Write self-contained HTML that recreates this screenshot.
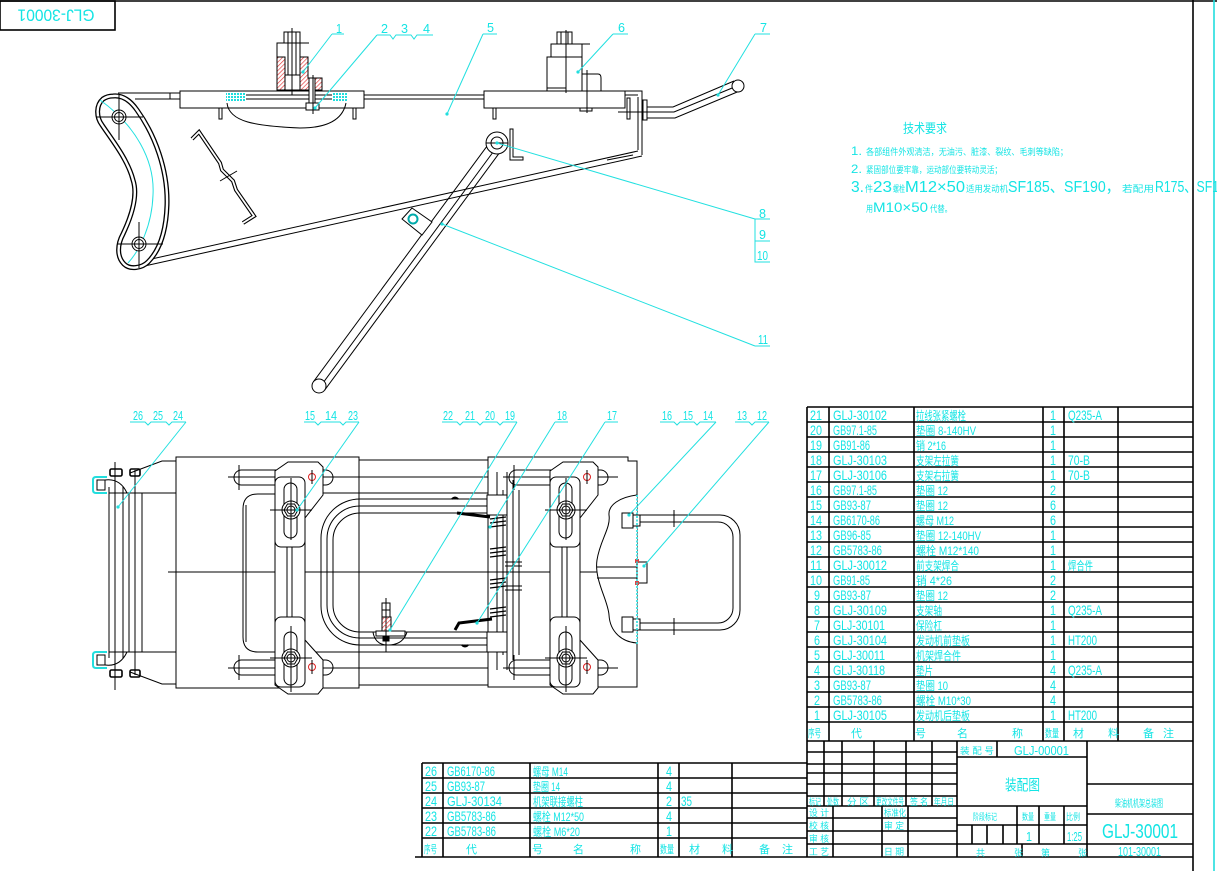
<!DOCTYPE html>
<html><head><meta charset="utf-8"><style>
html,body{margin:0;padding:0;background:#fff;}
svg{display:block;}
.c{fill:#14e4e4;font-family:"Liberation Sans","Noto Sans CJK SC",sans-serif;}
.k{stroke:#000;fill:none;stroke-width:1;}
.cy{stroke:#22e0e0;fill:none;stroke-width:1;}
.tb{stroke:#000;stroke-width:1.6;fill:none;}
</style></head><body>
<svg xmlns="http://www.w3.org/2000/svg" width="1217" height="871" viewBox="0 0 1217 871">
<defs>
<pattern id="rh" width="3" height="3" patternUnits="userSpaceOnUse" patternTransform="rotate(45)"><line x1="0" y1="0" x2="0" y2="3" stroke="#e03535" stroke-width="1.3"/></pattern>
<pattern id="ch" width="3" height="3" patternUnits="userSpaceOnUse"><rect width="2" height="2" fill="#20dede"/></pattern>
</defs>
<rect width="1217" height="871" fill="#fff"/>

<!-- frame -->
<line x1="0" y1="1" x2="1217" y2="1" stroke="#000" stroke-width="1.6"/>
<rect x="0" y="1" width="115" height="29" class="tb"/>
<text class="c" transform="translate(56.5,15.5) rotate(180)" x="-38" y="6" font-size="17" textLength="77" lengthAdjust="spacingAndGlyphs">GLJ-30001</text>
<line x1="1193" y1="0" x2="1193" y2="871" stroke="#000" stroke-width="1.6"/>
<line x1="1214" y1="0" x2="1214" y2="871" stroke="#22dede" stroke-width="1.6"/>

<!-- ================= TOP VIEW ================= -->
<g class="k">
<!-- rod -->
<line x1="118" y1="93" x2="180" y2="93"/>
<line x1="135" y1="99" x2="180" y2="99"/>
<line x1="170" y1="93" x2="170" y2="99"/>
<line x1="364" y1="95" x2="484" y2="95"/>
<line x1="364" y1="99" x2="484" y2="99"/>
<!-- left block -->
<rect x="180" y="91" width="184" height="17"/>
<line x1="246" y1="95" x2="332" y2="95"/>
<line x1="246" y1="99" x2="332" y2="99"/>
<rect x="219" y="108" width="3" height="11"/>
<rect x="353" y="108" width="3" height="11"/>
<path d="M227,103 C229,122 255,126 300,128 C330,128 343,118 346,103"/>
<!-- part 1 -->
<rect x="284" y="32" width="16" height="11"/>
<line x1="288" y1="32" x2="288" y2="43"/><line x1="296" y1="32" x2="296" y2="43"/>
<line x1="277" y1="43" x2="309" y2="43"/>
<rect x="277" y="43" width="23" height="47" fill="#fff"/>
<rect x="277" y="57" width="8" height="33" fill="url(#rh)"/>
<path d="M300,57 L308,57 L308,78 L322,78 L322,90 L300,90 Z" fill="url(#rh)"/>
<line x1="288" y1="43" x2="288" y2="75"/><line x1="296" y1="43" x2="296" y2="75"/>
<rect x="285" y="75" width="15" height="15"/>
<rect x="309" y="78" width="6" height="25" fill="#fff"/>
<rect x="306" y="103" width="13" height="7" fill="#fff"/>
<line x1="292" y1="28" x2="292" y2="95"/>
<line x1="313" y1="75" x2="313" y2="114"/>
<!-- right block -->
<rect x="484" y="91" width="141" height="17"/>
<rect x="493" y="108" width="3" height="11"/>
<rect x="580" y="108" width="12" height="3"/>
<rect x="547" y="57" width="35" height="34" fill="#fff"/>
<rect x="551" y="44" width="31" height="13"/>
<line x1="551" y1="44" x2="590" y2="44"/>
<rect x="557" y="32" width="15" height="12"/>
<line x1="561" y1="32" x2="561" y2="44"/><line x1="568" y1="32" x2="568" y2="44"/>
<path d="M582,74 L598,74 Q601,74 601,78 L601,91"/>
<line x1="547" y1="88" x2="566" y2="88"/>
<line x1="566" y1="30" x2="566" y2="93"/>
<line x1="587" y1="70" x2="587" y2="113"/>
<!-- bracket -->
<path d="M625,91 L642,91 L642,155"/>
<line x1="638" y1="97" x2="638" y2="150"/>
<line x1="625" y1="95" x2="638" y2="95"/>
<rect x="627" y="98" width="3" height="21"/>
<rect x="643" y="100" width="4" height="20"/>
<line x1="618" y1="112" x2="652" y2="112"/>
<line x1="607" y1="160" x2="633" y2="155"/>
<!-- handle -->
<path d="M647,107 L673,107 L734,81"/>
<path d="M647,112 L674,112 L737,86"/>
<path d="M647,118 L675,118 L742,90"/>
<circle cx="738" cy="86" r="6" fill="#fff"/>
<!-- diagonal frame bar -->
<line x1="138" y1="262" x2="638" y2="151"/>
<line x1="140" y1="267" x2="642" y2="156"/>
<!-- curved link -->
<path d="M113,96 C122,95 130,100 137,110 C155,135 168,170 167,205 C166,235 158,252 148,262 C142,268 130,270 124,264 C117,257 117,245 123,234 C132,215 138,195 133,180 C128,160 112,140 102,125 C96,117 96,105 103,99 C106,97 110,96 113,96 Z" stroke-width="5" fill="#fff"/>
<path d="M113,96 C122,95 130,100 137,110 C155,135 168,170 167,205 C166,235 158,252 148,262 C142,268 130,270 124,264 C117,257 117,245 123,234 C132,215 138,195 133,180 C128,160 112,140 102,125 C96,117 96,105 103,99 C106,97 110,96 113,96 Z" stroke="#fff" stroke-width="2.4"/>
</g>
<path d="M100,100 C135,125 155,160 153,195 C152,225 140,250 128,263" class="cy"/>
<g class="k">
<circle cx="119" cy="117" r="7" fill="#fff"/><circle cx="119" cy="117" r="4.5"/>
<line x1="97" y1="117" x2="143" y2="117"/><line x1="119" y1="95" x2="119" y2="140"/>
<circle cx="139" cy="244" r="7" fill="#fff"/><circle cx="139" cy="244" r="4.5"/>
<line x1="117" y1="244" x2="163" y2="244"/><line x1="139" y1="222" x2="139" y2="268"/>
<!-- bent wire -->
<polyline points="192,139 199,132 220,163 222,170 233,181 236,190 254,216 243,223" stroke-width="4"/>
<polyline points="192,139 199,132 220,163 222,170 233,181 236,190 254,216 243,223" stroke="#fff" stroke-width="1.8"/>
<line x1="220" y1="181" x2="237" y2="171"/>
<!-- lever -->
<line x1="503.6" y1="147.2" x2="324.6" y2="390.2"/>
<line x1="492.4" y1="138.8" x2="313.4" y2="381.8"/>
<line x1="499" y1="144" x2="320" y2="387"/>
<circle cx="497" cy="143" r="11" fill="#fff"/>
<circle cx="497" cy="143" r="6"/>
<line x1="486" y1="143" x2="508" y2="143"/>
<circle cx="319" cy="386" r="7" fill="#fff"/>
<path d="M510,129 L513,129 L513,157 L523,157 L523,160 L510,160 Z"/>
<polygon points="402,219 412,208 432,222 422,235" fill="#fff"/>
<circle cx="413" cy="219" r="4.5" stroke="#0aa" stroke-width="2"/>
</g>
<rect x="226" y="92" width="20" height="9" fill="url(#ch)"/>
<rect x="332" y="92" width="15" height="9" fill="url(#ch)"/>

<!-- top leaders -->
<g class="cy">
<path d="M332,34 L344,34 M332,34 L303,72"/>
<path d="M377,35 L390,35 L393,39 L396,35 L411,35 L414,39 L417,35 L433,35 M377,35 L315,108"/>
<path d="M483,34 L497,34 M483,34 L447,114"/>
<path d="M613,34 L628,34 M613,34 L578,72"/>
<path d="M755,34 L770,34 M755,34 L718,95"/>
<path d="M770,219 L755,219 L755,262 L770,262 M755,241 L770,241 M755,219 L497,143"/>
<path d="M755,346 L770,346 M755,346 L442,224"/>
</g>
<g fill="#22dede">
<circle cx="303" cy="72" r="1.6"/><circle cx="315" cy="108" r="1.6"/><circle cx="447" cy="114" r="1.6"/>
<circle cx="578" cy="72" r="1.6"/><circle cx="718" cy="95" r="1.6"/><circle cx="497" cy="143" r="1.6"/><circle cx="442" cy="224" r="1.6"/>
</g>
<g class="c" font-size="13">
<text x="336" y="33" textLength="6" lengthAdjust="spacingAndGlyphs">1</text>
<text x="381" y="33" textLength="7" lengthAdjust="spacingAndGlyphs">2</text>
<text x="401" y="33" textLength="7" lengthAdjust="spacingAndGlyphs">3</text>
<text x="423" y="33" textLength="7" lengthAdjust="spacingAndGlyphs">4</text>
<text x="487" y="32" textLength="7" lengthAdjust="spacingAndGlyphs">5</text>
<text x="618" y="32" textLength="7" lengthAdjust="spacingAndGlyphs">6</text>
<text x="760" y="32" textLength="7" lengthAdjust="spacingAndGlyphs">7</text>
<text x="759" y="218" textLength="7" lengthAdjust="spacingAndGlyphs">8</text>
<text x="759" y="239" textLength="7" lengthAdjust="spacingAndGlyphs">9</text>
<text x="757" y="260" textLength="11" lengthAdjust="spacingAndGlyphs">10</text>
<text x="758" y="344" textLength="10" lengthAdjust="spacingAndGlyphs">11</text>
</g>

<!-- tech requirements -->
<g class="c">
<text x="903" y="133" font-size="13" textLength="44" lengthAdjust="spacingAndGlyphs">技术要求</text>
<text x="851" y="155" font-size="12" textLength="11" lengthAdjust="spacingAndGlyphs">1.</text>
<text x="866" y="155" font-size="9" textLength="202" lengthAdjust="spacingAndGlyphs">各部组件外观清洁，无油污、脏漆、裂纹、毛刺等缺陷；</text>
<text x="851" y="173" font-size="12" textLength="11" lengthAdjust="spacingAndGlyphs">2.</text>
<text x="866" y="173" font-size="9" textLength="136" lengthAdjust="spacingAndGlyphs">紧固部位要牢靠，运动部位要转动灵活；</text>
<text x="851" y="192" font-size="16" textLength="13" lengthAdjust="spacingAndGlyphs">3.</text>
<text x="865" y="192" font-size="9" textLength="8" lengthAdjust="spacingAndGlyphs">件</text>
<text x="873" y="192" font-size="16" textLength="19" lengthAdjust="spacingAndGlyphs">23</text>
<text x="893" y="192" font-size="9" textLength="12" lengthAdjust="spacingAndGlyphs">螺栓</text>
<text x="905" y="192" font-size="16" textLength="60" lengthAdjust="spacingAndGlyphs">M12×50</text>
<text x="966" y="192" font-size="9" textLength="42" lengthAdjust="spacingAndGlyphs">适用发动机</text>
<text x="1008" y="192" font-size="16" textLength="112" lengthAdjust="spacingAndGlyphs">SF185、SF190，</text>
<text x="1122" y="192" font-size="9" textLength="32" lengthAdjust="spacingAndGlyphs">若配用</text>
<text x="1155" y="192" font-size="16" textLength="64" lengthAdjust="spacingAndGlyphs">R175、SF1</text>
<text x="866" y="212" font-size="9" textLength="7" lengthAdjust="spacingAndGlyphs">用</text>
<text x="873" y="212" font-size="14" textLength="55" lengthAdjust="spacingAndGlyphs">M10×50</text>
<text x="930" y="212" font-size="9" textLength="22" lengthAdjust="spacingAndGlyphs">代替。</text>
</g>

<!-- ================= BOTTOM VIEW ================= -->
<g class="k">
<line x1="168" y1="572" x2="600" y2="572"/>
<!-- left end -->
<line x1="109" y1="487" x2="109" y2="658"/>
<line x1="115" y1="462" x2="115" y2="690"/>
<line x1="123" y1="487" x2="123" y2="658"/>
<line x1="129" y1="493" x2="129" y2="652"/>
<line x1="135" y1="470" x2="135" y2="675"/>
<line x1="142" y1="493" x2="142" y2="652"/>
<line x1="109" y1="493" x2="176" y2="493"/>
<line x1="109" y1="652" x2="176" y2="652"/>
<path d="M130,473 L162,461 L176,461"/>
<path d="M130,672 L162,684 L176,684"/>
<path d="M105,480 Q120,478 127,493"/>
<path d="M105,665 Q120,667 127,652"/>
<rect x="110" y="469" width="12" height="7" rx="1.5" stroke-width="1.6"/>
<rect x="130" y="469" width="10" height="7" rx="1.5" stroke-width="1.6"/>
<rect x="110" y="670" width="12" height="7" rx="1.5" stroke-width="1.6"/>
<rect x="130" y="670" width="10" height="7" rx="1.5" stroke-width="1.6"/>
<rect x="97" y="480" width="8" height="10"/>
<rect x="97" y="655" width="8" height="10"/>
</g>
<path d="M107,477 L96,477 Q93,477 93,480 L93,490 Q93,493 96,493 L107,493" stroke="#22dede" stroke-width="2" fill="none"/>
<path d="M107,652 L96,652 Q93,652 93,655 L93,665 Q93,668 96,668 L107,668" stroke="#22dede" stroke-width="2" fill="none"/>
<g class="k">
<!-- main rects -->
<rect x="176" y="457" width="183" height="231"/>
<path d="M488,457 L628,457 L628,461 L637,461 L637,687 L488,687 Z"/>
<line x1="359" y1="460" x2="488" y2="460"/>
<line x1="323" y1="477" x2="488" y2="477"/>
<line x1="305" y1="493" x2="488" y2="493"/>
<line x1="305" y1="652" x2="488" y2="652"/>
<line x1="323" y1="668" x2="488" y2="668"/>
<line x1="359" y1="685" x2="488" y2="685"/>
<!-- slots left -->
<rect x="234" y="470" width="99" height="15" rx="7.5"/>
<rect x="234" y="660" width="99" height="15" rx="7.5"/>
<line x1="239" y1="465" x2="239" y2="490"/><line x1="239" y1="655" x2="239" y2="680"/>
<line x1="228" y1="477" x2="323" y2="477"/><line x1="228" y1="668" x2="323" y2="668"/>
<!-- slots right -->
<rect x="509" y="470" width="99" height="15" rx="7.5"/>
<rect x="509" y="660" width="99" height="15" rx="7.5"/>
<line x1="514" y1="465" x2="514" y2="490"/><line x1="514" y1="655" x2="514" y2="680"/>
<line x1="503" y1="477" x2="618" y2="477"/><line x1="503" y1="668" x2="618" y2="668"/>
<!-- inner rounded rect -->
<path d="M275,494 L258,494 Q243,494 243,509 L243,637 Q243,652 258,652 L275,652"/>
<line x1="246" y1="505" x2="246" y2="642"/>
<!-- U rod -->
<path d="M487,499 L360,499 A39,39 0 0 0 321,538 L321,606 A39,39 0 0 0 360,645 L487,645"/>
<path d="M487,506 L360,506 A33,33 0 0 0 327,539 L327,605 A33,33 0 0 0 360,638 L487,638"/>
<path d="M487,513 L360,513 A27,27 0 0 0 333,540 L333,605 A27,27 0 0 0 360,632 L487,632"/>
<!-- right inner verticals -->
<line x1="497" y1="472" x2="497" y2="670"/>
<line x1="503" y1="490" x2="503" y2="655"/>
<line x1="507" y1="472" x2="507" y2="670"/>
<line x1="513" y1="480" x2="513" y2="660"/>
<line x1="519" y1="490" x2="519" y2="655"/>
<rect x="487" y="495" width="20" height="20" fill="#fff"/>
<rect x="487" y="632" width="20" height="20" fill="#fff"/>
<!-- springs -->
<path d="M490,519 l16,-2 M490,523 l16,-2 M490,527 l16,-2 M490,549 l16,-2 M490,553 l16,-2 M490,557 l16,-2 M490,580 l16,-2 M490,584 l16,-2 M490,588 l16,-2 M490,609 l16,-2 M490,613 l16,-2 M490,617 l16,-2" stroke-width="1.3"/>
<line x1="505" y1="562" x2="522" y2="562"/><line x1="505" y1="566" x2="522" y2="566"/>
<line x1="505" y1="586" x2="522" y2="586"/><line x1="505" y1="590" x2="522" y2="590"/>
<!-- hooks -->
<path d="M457,513 L490,517" stroke-width="3"/>
<path d="M455,630 L459,623 L492,619" stroke-width="3"/>
<path d="M452,499 q3,-3 6,0" stroke-width="2"/>
<path d="M462,645 q3,3 6,0" stroke-width="2"/>
<!-- part 22 -->
<rect x="382" y="603" width="8" height="7"/>
<rect x="382" y="610" width="8" height="7"/>
<rect x="376" y="631" width="29" height="5" fill="#fff"/>
<path d="M373,632 Q375,645 388,645 Q403,645 407,632"/>
<rect x="383" y="636" width="6" height="5" fill="#000"/>
<line x1="386" y1="598" x2="386" y2="652"/>
</g>
<rect x="382" y="617" width="9" height="14" fill="url(#rh)" stroke="#000" stroke-width="1"/>
<!-- plates -->
<g class="k" id="plate">
<path d="M288,462 L318,462 L323,467 L323,495 L305,518 L305,640 L323,660 L323,688 L318,694 L288,694 L275,685 L275,471 Z" fill="#fff"/>
<rect x="275" y="477" width="30" height="70" rx="6"/>
<rect x="275" y="617" width="30" height="70" rx="6"/>
<line x1="287" y1="547" x2="287" y2="617"/><line x1="292" y1="547" x2="292" y2="617"/>
<rect x="284" y="483" width="13" height="55" rx="6.5"/>
<rect x="284" y="632" width="13" height="53" rx="6.5"/>
<circle cx="291" cy="510" r="9" fill="#fff"/>
<polygon points="298,510 294.5,516 287.5,516 284,510 287.5,504 294.5,504"/>
<circle cx="291" cy="510" r="4"/>
<circle cx="291" cy="658" r="9" fill="#fff"/>
<polygon points="298,658 294.5,664 287.5,664 284,658 287.5,652 294.5,652"/>
<circle cx="291" cy="658" r="4"/>
<line x1="270" y1="510" x2="312" y2="510"/>
<line x1="270" y1="658" x2="312" y2="658"/>
<line x1="291" y1="478" x2="291" y2="540"/>
<line x1="291" y1="626" x2="291" y2="692"/>
<circle cx="312" cy="477" r="3.5" stroke="#d22"/>
<circle cx="312" cy="667" r="3.5" stroke="#d22"/>
<line x1="312" y1="470" x2="312" y2="484"/><line x1="312" y1="660" x2="312" y2="674"/>
</g>
<g class="k" transform="translate(275,0)">
<path d="M288,462 L318,462 L323,467 L323,495 L305,518 L305,640 L323,660 L323,688 L318,694 L288,694 L275,685 L275,471 Z" fill="#fff"/>
<rect x="275" y="477" width="30" height="70" rx="6"/>
<rect x="275" y="617" width="30" height="70" rx="6"/>
<line x1="287" y1="547" x2="287" y2="617"/><line x1="292" y1="547" x2="292" y2="617"/>
<rect x="284" y="483" width="13" height="55" rx="6.5"/>
<rect x="284" y="632" width="13" height="53" rx="6.5"/>
<circle cx="291" cy="510" r="9" fill="#fff"/>
<polygon points="298,510 294.5,516 287.5,516 284,510 287.5,504 294.5,504"/>
<circle cx="291" cy="510" r="4"/>
<circle cx="291" cy="658" r="9" fill="#fff"/>
<polygon points="298,658 294.5,664 287.5,664 284,658 287.5,652 294.5,652"/>
<circle cx="291" cy="658" r="4"/>
<line x1="270" y1="510" x2="312" y2="510"/>
<line x1="270" y1="658" x2="312" y2="658"/>
<line x1="291" y1="478" x2="291" y2="540"/>
<line x1="291" y1="626" x2="291" y2="692"/>
<circle cx="312" cy="477" r="3.5" stroke="#d22"/>
<circle cx="312" cy="667" r="3.5" stroke="#d22"/>
<line x1="312" y1="470" x2="312" y2="484"/><line x1="312" y1="660" x2="312" y2="674"/>
</g>
<!-- right end -->
<g class="k">
<path d="M637,495 C620,497 608,505 609,515 C611,528 600,540 597,560 C594,580 608,600 609,615 C610,632 622,642 637,643" fill="#fff"/>
<path d="M637,515 L720,515 A20,20 0 0 1 740,535 L740,610 A20,20 0 0 1 720,630 L637,630"/>
<path d="M637,522 L718,522 A15,15 0 0 1 733,537 L733,608 A15,15 0 0 1 718,623 L637,623"/>
<line x1="674" y1="510" x2="674" y2="527"/><line x1="674" y1="618" x2="674" y2="635"/>
<rect x="622" y="513" width="11" height="15" fill="#fff"/>
<rect x="633" y="515" width="7" height="11" fill="#fff"/>
<rect x="622" y="617" width="11" height="15" fill="#fff"/>
<rect x="633" y="619" width="7" height="11" fill="#fff"/>
<line x1="597" y1="567" x2="645" y2="567"/>
<line x1="597" y1="578" x2="645" y2="578"/>
<rect x="637" y="562" width="10" height="21" fill="#fff"/>
</g>
<rect x="635" y="559" width="4" height="4" fill="#d44"/>
<rect x="635" y="581" width="4" height="4" fill="#d44"/>
<line x1="637" y1="495" x2="637" y2="645" stroke="#22dede" stroke-width="1.6" stroke-dasharray="2,1.5"/>

<!-- bottom leaders -->
<g class="cy">
<path d="M130,422 L145,422 L148,425 L151,422 L166,422 L169,425 L172,422 L186,422 M186,422 L118,507"/>
<path d="M304,422 L315,422 L318,425 L321,422 L340,422 L343,425 L346,422 L359,422 M359,422 L297,510"/>
<path d="M442,422 L457,422 L460,425 L463,422 L477,422 L480,425 L483,422 L497,422 L500,425 L503,422 L517,422 M517,422 L390,630"/>
<path d="M555,422 L568,422 M555,422 L490,527"/>
<path d="M605,422 L618,422 M605,422 L477,623"/>
<path d="M660,422 L674,422 L677,425 L680,422 L694,422 L697,425 L700,422 L716,422 M716,422 L629,515"/>
<path d="M735,422 L749,422 L752,425 L755,422 L769,422 M769,422 L644,566"/>
</g>
<g fill="#22dede">
<circle cx="118" cy="507" r="1.6"/><circle cx="297" cy="510" r="1.6"/><circle cx="390" cy="630" r="1.6"/>
<circle cx="490" cy="527" r="1.6"/><circle cx="477" cy="623" r="1.6"/><circle cx="629" cy="515" r="1.6"/><circle cx="644" cy="566" r="1.6"/>
</g>
<g class="c" font-size="13">
<text x="133" y="420" textLength="10" lengthAdjust="spacingAndGlyphs">26</text>
<text x="153" y="420" textLength="10" lengthAdjust="spacingAndGlyphs">25</text>
<text x="173" y="420" textLength="10" lengthAdjust="spacingAndGlyphs">24</text>
<text x="305" y="420" textLength="10" lengthAdjust="spacingAndGlyphs">15</text>
<text x="325" y="420" textLength="12" lengthAdjust="spacingAndGlyphs">14</text>
<text x="348" y="420" textLength="10" lengthAdjust="spacingAndGlyphs">23</text>
<text x="443" y="420" textLength="10" lengthAdjust="spacingAndGlyphs">22</text>
<text x="465" y="420" textLength="10" lengthAdjust="spacingAndGlyphs">21</text>
<text x="485" y="420" textLength="10" lengthAdjust="spacingAndGlyphs">20</text>
<text x="505" y="420" textLength="10" lengthAdjust="spacingAndGlyphs">19</text>
<text x="557" y="420" textLength="10" lengthAdjust="spacingAndGlyphs">18</text>
<text x="607" y="420" textLength="10" lengthAdjust="spacingAndGlyphs">17</text>
<text x="662" y="420" textLength="10" lengthAdjust="spacingAndGlyphs">16</text>
<text x="683" y="420" textLength="10" lengthAdjust="spacingAndGlyphs">15</text>
<text x="703" y="420" textLength="10" lengthAdjust="spacingAndGlyphs">14</text>
<text x="737" y="420" textLength="10" lengthAdjust="spacingAndGlyphs">13</text>
<text x="757" y="420" textLength="10" lengthAdjust="spacingAndGlyphs">12</text>
</g>

<!-- ================= PARTS TABLE ================= -->
<g class="tb">
<path d="M807,407 H1193 M807,422 H1193 M807,437 H1193 M807,452 H1193 M807,467 H1193 M807,482 H1193 M807,497 H1193 M807,512 H1193 M807,527 H1193 M807,542 H1193 M807,557 H1193 M807,572 H1193 M807,587 H1193 M807,602 H1193 M807,617 H1193 M807,632 H1193 M807,647 H1193 M807,662 H1193 M807,677 H1193 M807,692 H1193 M807,707 H1193 M807,722 H1193 M807,741 H1193"/>
<path d="M807,407 V857 M829,407 V741 M914,407 V741 M1043,407 V741 M1064,407 V741 M1118,407 V741"/>
</g>
<g class="c" font-size="14">
<!-- numbers -->
<text x="810" y="420" textLength="12" lengthAdjust="spacingAndGlyphs">21</text>
<text x="810" y="435" textLength="12" lengthAdjust="spacingAndGlyphs">20</text>
<text x="810" y="450" textLength="12" lengthAdjust="spacingAndGlyphs">19</text>
<text x="810" y="465" textLength="12" lengthAdjust="spacingAndGlyphs">18</text>
<text x="810" y="480" textLength="12" lengthAdjust="spacingAndGlyphs">17</text>
<text x="810" y="495" textLength="12" lengthAdjust="spacingAndGlyphs">16</text>
<text x="810" y="510" textLength="12" lengthAdjust="spacingAndGlyphs">15</text>
<text x="810" y="525" textLength="12" lengthAdjust="spacingAndGlyphs">14</text>
<text x="810" y="540" textLength="12" lengthAdjust="spacingAndGlyphs">13</text>
<text x="810" y="555" textLength="12" lengthAdjust="spacingAndGlyphs">12</text>
<text x="810" y="570" textLength="12" lengthAdjust="spacingAndGlyphs">11</text>
<text x="810" y="585" textLength="12" lengthAdjust="spacingAndGlyphs">10</text>
<text x="814" y="600" textLength="6" lengthAdjust="spacingAndGlyphs">9</text>
<text x="814" y="615" textLength="6" lengthAdjust="spacingAndGlyphs">8</text>
<text x="814" y="630" textLength="6" lengthAdjust="spacingAndGlyphs">7</text>
<text x="814" y="645" textLength="6" lengthAdjust="spacingAndGlyphs">6</text>
<text x="814" y="660" textLength="6" lengthAdjust="spacingAndGlyphs">5</text>
<text x="814" y="675" textLength="6" lengthAdjust="spacingAndGlyphs">4</text>
<text x="814" y="690" textLength="6" lengthAdjust="spacingAndGlyphs">3</text>
<text x="814" y="705" textLength="6" lengthAdjust="spacingAndGlyphs">2</text>
<text x="814" y="720" textLength="6" lengthAdjust="spacingAndGlyphs">1</text>
<!-- codes -->
<text x="833" y="420" textLength="54" lengthAdjust="spacingAndGlyphs">GLJ-30102</text>
<text x="833" y="435" textLength="44" lengthAdjust="spacingAndGlyphs">GB97.1-85</text>
<text x="833" y="450" textLength="37" lengthAdjust="spacingAndGlyphs">GB91-86</text>
<text x="833" y="465" textLength="54" lengthAdjust="spacingAndGlyphs">GLJ-30103</text>
<text x="833" y="480" textLength="54" lengthAdjust="spacingAndGlyphs">GLJ-30106</text>
<text x="833" y="495" textLength="44" lengthAdjust="spacingAndGlyphs">GB97.1-85</text>
<text x="833" y="510" textLength="38" lengthAdjust="spacingAndGlyphs">GB93-87</text>
<text x="833" y="525" textLength="47" lengthAdjust="spacingAndGlyphs">GB6170-86</text>
<text x="833" y="540" textLength="38" lengthAdjust="spacingAndGlyphs">GB96-85</text>
<text x="833" y="555" textLength="49" lengthAdjust="spacingAndGlyphs">GB5783-86</text>
<text x="833" y="570" textLength="54" lengthAdjust="spacingAndGlyphs">GLJ-30012</text>
<text x="833" y="585" textLength="37" lengthAdjust="spacingAndGlyphs">GB91-85</text>
<text x="833" y="600" textLength="38" lengthAdjust="spacingAndGlyphs">GB93-87</text>
<text x="833" y="615" textLength="54" lengthAdjust="spacingAndGlyphs">GLJ-30109</text>
<text x="833" y="630" textLength="52" lengthAdjust="spacingAndGlyphs">GLJ-30101</text>
<text x="833" y="645" textLength="54" lengthAdjust="spacingAndGlyphs">GLJ-30104</text>
<text x="833" y="660" textLength="52" lengthAdjust="spacingAndGlyphs">GLJ-30011</text>
<text x="833" y="675" textLength="52" lengthAdjust="spacingAndGlyphs">GLJ-30118</text>
<text x="833" y="690" textLength="38" lengthAdjust="spacingAndGlyphs">GB93-87</text>
<text x="833" y="705" textLength="49" lengthAdjust="spacingAndGlyphs">GB5783-86</text>
<text x="833" y="720" textLength="54" lengthAdjust="spacingAndGlyphs">GLJ-30105</text>
<!-- qty -->
<text x="1050" y="420" textLength="6" lengthAdjust="spacingAndGlyphs">1</text>
<text x="1050" y="435" textLength="6" lengthAdjust="spacingAndGlyphs">1</text>
<text x="1050" y="450" textLength="6" lengthAdjust="spacingAndGlyphs">1</text>
<text x="1050" y="465" textLength="6" lengthAdjust="spacingAndGlyphs">1</text>
<text x="1050" y="480" textLength="6" lengthAdjust="spacingAndGlyphs">1</text>
<text x="1050" y="495" textLength="6" lengthAdjust="spacingAndGlyphs">2</text>
<text x="1050" y="510" textLength="6" lengthAdjust="spacingAndGlyphs">6</text>
<text x="1050" y="525" textLength="6" lengthAdjust="spacingAndGlyphs">6</text>
<text x="1050" y="540" textLength="6" lengthAdjust="spacingAndGlyphs">1</text>
<text x="1050" y="555" textLength="6" lengthAdjust="spacingAndGlyphs">1</text>
<text x="1050" y="570" textLength="6" lengthAdjust="spacingAndGlyphs">1</text>
<text x="1050" y="585" textLength="6" lengthAdjust="spacingAndGlyphs">2</text>
<text x="1050" y="600" textLength="6" lengthAdjust="spacingAndGlyphs">2</text>
<text x="1050" y="615" textLength="6" lengthAdjust="spacingAndGlyphs">1</text>
<text x="1050" y="630" textLength="6" lengthAdjust="spacingAndGlyphs">1</text>
<text x="1050" y="645" textLength="6" lengthAdjust="spacingAndGlyphs">1</text>
<text x="1050" y="660" textLength="6" lengthAdjust="spacingAndGlyphs">1</text>
<text x="1050" y="675" textLength="6" lengthAdjust="spacingAndGlyphs">4</text>
<text x="1050" y="690" textLength="6" lengthAdjust="spacingAndGlyphs">4</text>
<text x="1050" y="705" textLength="6" lengthAdjust="spacingAndGlyphs">4</text>
<text x="1050" y="720" textLength="6" lengthAdjust="spacingAndGlyphs">1</text>
<!-- material -->
<text x="1068" y="420" textLength="34" lengthAdjust="spacingAndGlyphs">Q235-A</text>
<text x="1068" y="465" textLength="22" lengthAdjust="spacingAndGlyphs">70-B</text>
<text x="1068" y="480" textLength="22" lengthAdjust="spacingAndGlyphs">70-B</text>
<text x="1068" y="615" textLength="34" lengthAdjust="spacingAndGlyphs">Q235-A</text>
<text x="1068" y="645" textLength="29" lengthAdjust="spacingAndGlyphs">HT200</text>
<text x="1068" y="675" textLength="34" lengthAdjust="spacingAndGlyphs">Q235-A</text>
<text x="1068" y="720" textLength="29" lengthAdjust="spacingAndGlyphs">HT200</text>
</g>
<g class="c" font-size="12">
<text x="916" y="420" textLength="50" lengthAdjust="spacingAndGlyphs">拉线张紧螺栓</text>
<text x="916" y="435" textLength="60" lengthAdjust="spacingAndGlyphs">垫圈 8-140HV</text>
<text x="916" y="450" textLength="30" lengthAdjust="spacingAndGlyphs">销 2*16</text>
<text x="916" y="465" textLength="43" lengthAdjust="spacingAndGlyphs">支架左拉簧</text>
<text x="916" y="480" textLength="43" lengthAdjust="spacingAndGlyphs">支架右拉簧</text>
<text x="916" y="495" textLength="32" lengthAdjust="spacingAndGlyphs">垫圈 12</text>
<text x="916" y="510" textLength="32" lengthAdjust="spacingAndGlyphs">垫圈 12</text>
<text x="916" y="525" textLength="38" lengthAdjust="spacingAndGlyphs">螺母 M12</text>
<text x="916" y="540" textLength="65" lengthAdjust="spacingAndGlyphs">垫圈 12-140HV</text>
<text x="916" y="555" textLength="63" lengthAdjust="spacingAndGlyphs">螺栓 M12*140</text>
<text x="916" y="570" textLength="43" lengthAdjust="spacingAndGlyphs">前支架焊合</text>
<text x="916" y="585" textLength="36" lengthAdjust="spacingAndGlyphs">销 4*26</text>
<text x="916" y="600" textLength="32" lengthAdjust="spacingAndGlyphs">垫圈 12</text>
<text x="916" y="615" textLength="26" lengthAdjust="spacingAndGlyphs">支架轴</text>
<text x="916" y="630" textLength="26" lengthAdjust="spacingAndGlyphs">保险杠</text>
<text x="916" y="645" textLength="54" lengthAdjust="spacingAndGlyphs">发动机前垫板</text>
<text x="916" y="660" textLength="45" lengthAdjust="spacingAndGlyphs">机架焊合件</text>
<text x="916" y="675" textLength="17" lengthAdjust="spacingAndGlyphs">垫片</text>
<text x="916" y="690" textLength="32" lengthAdjust="spacingAndGlyphs">垫圈 10</text>
<text x="916" y="705" textLength="55" lengthAdjust="spacingAndGlyphs">螺栓 M10*30</text>
<text x="916" y="720" textLength="54" lengthAdjust="spacingAndGlyphs">发动机后垫板</text>
<text x="1068" y="570" textLength="25" lengthAdjust="spacingAndGlyphs">焊合件</text>
</g>
<g class="c" font-size="11">
<text x="808" y="737" textLength="13" lengthAdjust="spacingAndGlyphs">序号</text>
<text x="851" y="737">代</text>
<text x="915" y="737">号</text>
<text x="957" y="737">名</text>
<text x="1012" y="737">称</text>
<text x="1045" y="737" textLength="14" lengthAdjust="spacingAndGlyphs">数量</text>
<text x="1073" y="737">材</text>
<text x="1108" y="737">料</text>
<text x="1143" y="737">备</text>
<text x="1163" y="737">注</text>
</g>

<!-- ================= LOWER LEFT TABLE ================= -->
<g class="tb">
<path d="M422,763 H807 M422,778 H807 M422,793 H807 M422,808 H807 M422,823 H807 M422,838 H807 M415,857 H1193"/>
<path d="M422,763 V857 M443,763 V857 M530,763 V857 M658,763 V857 M679,763 V857 M732,763 V857"/>
</g>
<g class="c" font-size="14">
<text x="425" y="776" textLength="12" lengthAdjust="spacingAndGlyphs">26</text>
<text x="425" y="791" textLength="12" lengthAdjust="spacingAndGlyphs">25</text>
<text x="425" y="806" textLength="12" lengthAdjust="spacingAndGlyphs">24</text>
<text x="425" y="821" textLength="12" lengthAdjust="spacingAndGlyphs">23</text>
<text x="425" y="836" textLength="12" lengthAdjust="spacingAndGlyphs">22</text>
<text x="447" y="776" textLength="48" lengthAdjust="spacingAndGlyphs">GB6170-86</text>
<text x="447" y="791" textLength="38" lengthAdjust="spacingAndGlyphs">GB93-87</text>
<text x="447" y="806" textLength="55" lengthAdjust="spacingAndGlyphs">GLJ-30134</text>
<text x="447" y="821" textLength="49" lengthAdjust="spacingAndGlyphs">GB5783-86</text>
<text x="447" y="836" textLength="49" lengthAdjust="spacingAndGlyphs">GB5783-86</text>
<text x="666" y="776" textLength="6" lengthAdjust="spacingAndGlyphs">4</text>
<text x="666" y="791" textLength="6" lengthAdjust="spacingAndGlyphs">4</text>
<text x="666" y="806" textLength="6" lengthAdjust="spacingAndGlyphs">2</text>
<text x="666" y="821" textLength="6" lengthAdjust="spacingAndGlyphs">4</text>
<text x="666" y="836" textLength="6" lengthAdjust="spacingAndGlyphs">1</text>
<text x="681" y="806" textLength="11" lengthAdjust="spacingAndGlyphs">35</text>
</g>
<g class="c" font-size="12">
<text x="533" y="776" textLength="35" lengthAdjust="spacingAndGlyphs">螺母 M14</text>
<text x="533" y="791" textLength="27" lengthAdjust="spacingAndGlyphs">垫圈 14</text>
<text x="533" y="806" textLength="50" lengthAdjust="spacingAndGlyphs">机架联接螺柱</text>
<text x="533" y="821" textLength="51" lengthAdjust="spacingAndGlyphs">螺栓 M12*50</text>
<text x="533" y="836" textLength="47" lengthAdjust="spacingAndGlyphs">螺栓 M6*20</text>
</g>
<g class="c" font-size="11">
<text x="424" y="853" textLength="13" lengthAdjust="spacingAndGlyphs">序号</text>
<text x="466" y="853">代</text>
<text x="532" y="853">号</text>
<text x="573" y="853">名</text>
<text x="630" y="853">称</text>
<text x="660" y="853" textLength="14" lengthAdjust="spacingAndGlyphs">数量</text>
<text x="689" y="853">材</text>
<text x="722" y="853">料</text>
<text x="759" y="853">备</text>
<text x="782" y="853">注</text>
</g>

<!-- ================= TITLE BLOCK ================= -->
<g class="tb">
<path d="M957,741 V857 M1087,741 V857"/>
<path d="M807,752 H957 M807,764 H957 M807,773 H957 M807,784 H957 M807,796 H957 M807,806 H957 M807,818 H957 M807,831 H957 M807,844 H957"/>
<path d="M824,741 V806 M842,741 V806 M874,741 V806 M906,741 V806 M932,741 V806"/>
<path d="M833,806 V857 M882,806 V857 M908,806 V857"/>
<path d="M957,757 H1087 M957,806 H1087 M957,825 H1087 M957,844 H1087 M997,741 V757"/>
<path d="M1017,806 V844 M1039,806 V844 M1064,806 V844 M972,825 V844 M987,825 V844 M1003,825 V844 M1022,844 V857"/>
<path d="M1087,784 H1193 M1087,814 H1193 M1087,844 H1193"/>
</g>
<g class="c" font-size="9">
<text x="809" y="805" textLength="12" lengthAdjust="spacingAndGlyphs">标记</text>
<text x="827" y="805" textLength="12" lengthAdjust="spacingAndGlyphs">处数</text>
<text x="847" y="805" textLength="22" lengthAdjust="spacingAndGlyphs">分 区</text>
<text x="876" y="805" textLength="28" lengthAdjust="spacingAndGlyphs">更改文件号</text>
<text x="910" y="805" textLength="18" lengthAdjust="spacingAndGlyphs">签 名</text>
<text x="934" y="805" textLength="20" lengthAdjust="spacingAndGlyphs">年月日</text>
<text x="809" y="816" textLength="20" lengthAdjust="spacingAndGlyphs">设 计</text>
<text x="884" y="816" textLength="22" lengthAdjust="spacingAndGlyphs">标准化</text>
<text x="809" y="829" textLength="20" lengthAdjust="spacingAndGlyphs">校 核</text>
<text x="884" y="829" textLength="20" lengthAdjust="spacingAndGlyphs">审 定</text>
<text x="809" y="842" textLength="20" lengthAdjust="spacingAndGlyphs">审 核</text>
<text x="809" y="855" textLength="20" lengthAdjust="spacingAndGlyphs">工 艺</text>
<text x="884" y="855" textLength="20" lengthAdjust="spacingAndGlyphs">日 期</text>
<text x="960" y="754" textLength="34" lengthAdjust="spacingAndGlyphs">装 配 号</text>
<text x="973" y="820" textLength="24" lengthAdjust="spacingAndGlyphs">阶段标记</text>
<text x="1022" y="820" textLength="12" lengthAdjust="spacingAndGlyphs">数量</text>
<text x="1044" y="820" textLength="12" lengthAdjust="spacingAndGlyphs">重量</text>
<text x="1066" y="820" textLength="14" lengthAdjust="spacingAndGlyphs">比例</text>
<text x="976" y="856">共</text>
<text x="1014" y="856">张</text>
<text x="1041" y="856">第</text>
<text x="1078" y="856">张</text>
</g>
<g class="c">
<text x="1014" y="755" font-size="13" textLength="55" lengthAdjust="spacingAndGlyphs">GLJ-00001</text>
<text x="1005" y="790" font-size="15" textLength="35" lengthAdjust="spacingAndGlyphs">装配图</text>
<text x="1026" y="841" font-size="13" textLength="6" lengthAdjust="spacingAndGlyphs">1</text>
<text x="1067" y="841" font-size="13" textLength="15" lengthAdjust="spacingAndGlyphs">1:25</text>
<text x="1115" y="807" font-size="10" textLength="48" lengthAdjust="spacingAndGlyphs">柴油机机架总装图</text>
<text x="1102" y="838" font-size="20" textLength="76" lengthAdjust="spacingAndGlyphs">GLJ-30001</text>
<text x="1118" y="856" font-size="13" textLength="43" lengthAdjust="spacingAndGlyphs">101-30001</text>
</g>
</svg>
</body></html>
